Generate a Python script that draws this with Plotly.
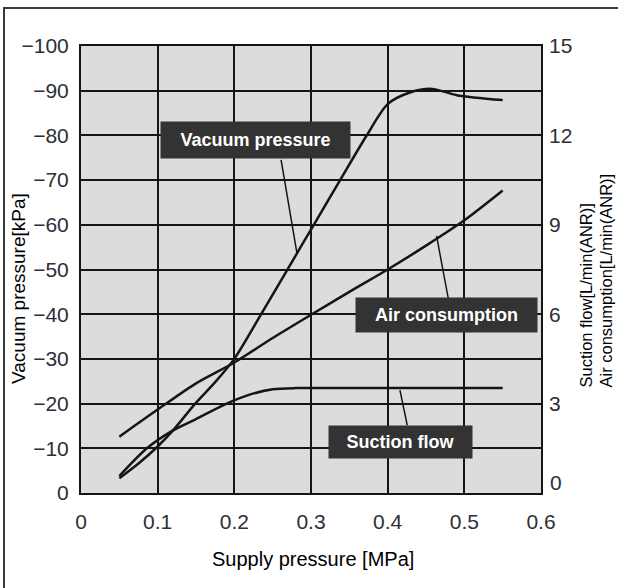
import plotly.graph_objects as go

# supply pressure [MPa] and readings
vac_x = [0.05, 0.075, 0.1, 0.12, 0.149, 0.175, 0.2, 0.235, 0.27, 0.305, 0.338, 0.372, 0.4, 0.429, 0.458, 0.49, 0.55]
vac_kpa = [-3.3, -6.6, -10.4, -14, -20, -24.8, -30, -40, -50.2, -60.4, -70, -79.8, -87, -89.6, -90.4, -89, -87.9]

air_x = [0.05, 0.1, 0.15, 0.2, 0.25, 0.3, 0.35, 0.4, 0.45, 0.5, 0.55]
air_lpm = [1.89, 2.8, 3.68, 4.38, 5.2, 5.98, 6.75, 7.5, 8.3, 9.15, 10.15]

suc_x = [0.05, 0.086, 0.12, 0.15, 0.19, 0.22, 0.25, 0.28, 0.3, 0.55]
suc_lpm = [0.57, 1.5, 2.1, 2.48, 3.0, 3.3, 3.48, 3.52, 3.52, 3.52]

x_ticks = [0, 0.1, 0.2, 0.3, 0.4, 0.5, 0.6]
x_ticktext = ["0", "0.1", "0.2", "0.3", "0.4", "0.5", "0.6"]
left_ticks = [0, -10, -20, -30, -40, -50, -60, -70, -80, -90, -100]
right_ticks = [3, 6, 9, 12, 15]

W, H = 618, 588
L, R, T, B = 81, 77, 46, 95
PW, PH = W - L - R, H - T - B


def px(x):
    return (x - L) / PW


def py(y):
    return (H - B - y) / PH


TICKFONT = dict(family="Liberation Sans, Arial, sans-serif", size=21, color="#2e2e36")
TEXTFONT = "Liberation Sans, Arial, sans-serif"
INK = "#151515"

fig = go.Figure()
fig.add_trace(go.Scatter(x=vac_x, y=vac_kpa, mode="lines", line=dict(color=INK, width=2.5, shape="spline", smoothing=0.8),
                         name="Vacuum pressure", yaxis="y"))
fig.add_trace(go.Scatter(x=air_x, y=air_lpm, mode="lines", line=dict(color=INK, width=2.5, shape="spline", smoothing=0.8),
                         name="Air consumption", yaxis="y2"))
fig.add_trace(go.Scatter(x=suc_x, y=suc_lpm, mode="lines", line=dict(color=INK, width=2.5, shape="spline", smoothing=0.8),
                         name="Suction flow", yaxis="y2"))

axis_common = dict(showline=True, linecolor=INK, linewidth=2, mirror=True, zeroline=False,
                   tickfont=TICKFONT, ticks="", automargin=False)

fig.update_layout(
    width=W, height=H,
    margin=dict(l=L, r=R, t=T, b=B, autoexpand=False),
    paper_bgcolor="white",
    plot_bgcolor="#dcdcdc",
    showlegend=False,
    xaxis=dict(range=[0, 0.6], tickvals=x_ticks, ticktext=x_ticktext, showgrid=True,
               gridcolor=INK, gridwidth=2, ticklabelstandoff=9, **axis_common),
    yaxis=dict(range=[0, -100], tickvals=left_ticks, showgrid=True, gridcolor=INK, gridwidth=2,
               ticklabelstandoff=6, **axis_common),
    yaxis2=dict(range=[0, 15], overlaying="y", side="right", tickvals=right_ticks, showgrid=False,
                showline=False, zeroline=False, tickfont=TICKFONT, ticks="", ticklabelstandoff=7,
                automargin=False),
)

# outer frame
fig.add_shape(type="rect", xref="paper", yref="paper", x0=px(4), x1=px(640), y0=py(610), y1=py(8),
              line=dict(color="#3a3a3a", width=2), layer="above")

# leader lines
for x0, y0, x1, y1 in [(0.261, -74.5, 0.2816, -53.7), (0.4638, -57.5, 0.479, -43.6), (0.416, -23.0, 0.4255, -15.2)]:
    fig.add_shape(type="line", xref="x", yref="y", x0=x0, y0=y0, x1=x1, y1=y1,
                  line=dict(color=INK, width=1.5))

# curve labels
for text, x, y, w, h in [("Vacuum pressure", 0.2275, -79.0, 189, 36),
                         ("Air consumption", 0.4765, -39.8, 181, 34),
                         ("Suction flow", 0.4166, -11.4, 143, 32)]:
    fig.add_annotation(text="<b>%s</b>" % text, x=x, y=y, xref="x", yref="y", showarrow=False,
                       font=dict(family=TEXTFONT, size=18, color="white"),
                       bgcolor="#333333", width=w - 4, height=h - 4, borderpad=2)

# axis titles
fig.add_annotation(text="Vacuum pressure[kPa]", x=px(18), y=py(289), xref="paper", yref="paper",
                   xanchor="center", yanchor="middle", textangle=-90, showarrow=False,
                   font=dict(family=TEXTFONT, size=19, color="black"))
fig.add_annotation(text="Supply pressure [MPa]", x=px(313), y=py(559), xref="paper", yref="paper",
                   xanchor="center", yanchor="middle", showarrow=False,
                   font=dict(family=TEXTFONT, size=20, color="black"))
fig.add_annotation(text="Suction flow[L/min(ANR)]", x=px(585.5), y=py(390), xref="paper", yref="paper",
                   xanchor="center", yanchor="bottom", textangle=-90, showarrow=False,
                   font=dict(family=TEXTFONT, size=16.5, color="black"))
fig.add_annotation(text="Air consumption[L/min(ANR)]", x=px(605.5), y=py(390), xref="paper", yref="paper",
                   xanchor="center", yanchor="bottom", textangle=-90, showarrow=False,
                   font=dict(family=TEXTFONT, size=16.5, color="black"))
# right-axis zero sits a little above the corner
fig.add_annotation(text="0", x=px(548), y=py(482), xref="paper", yref="paper", xanchor="left",
                   yanchor="middle", showarrow=False, font=TICKFONT)

# the page body has a default 8px margin; drop it so the figure fills the window
fig.write_html("out.html", config={"displayModeBar": False},
               post_script="document.body.style.margin='0';")
